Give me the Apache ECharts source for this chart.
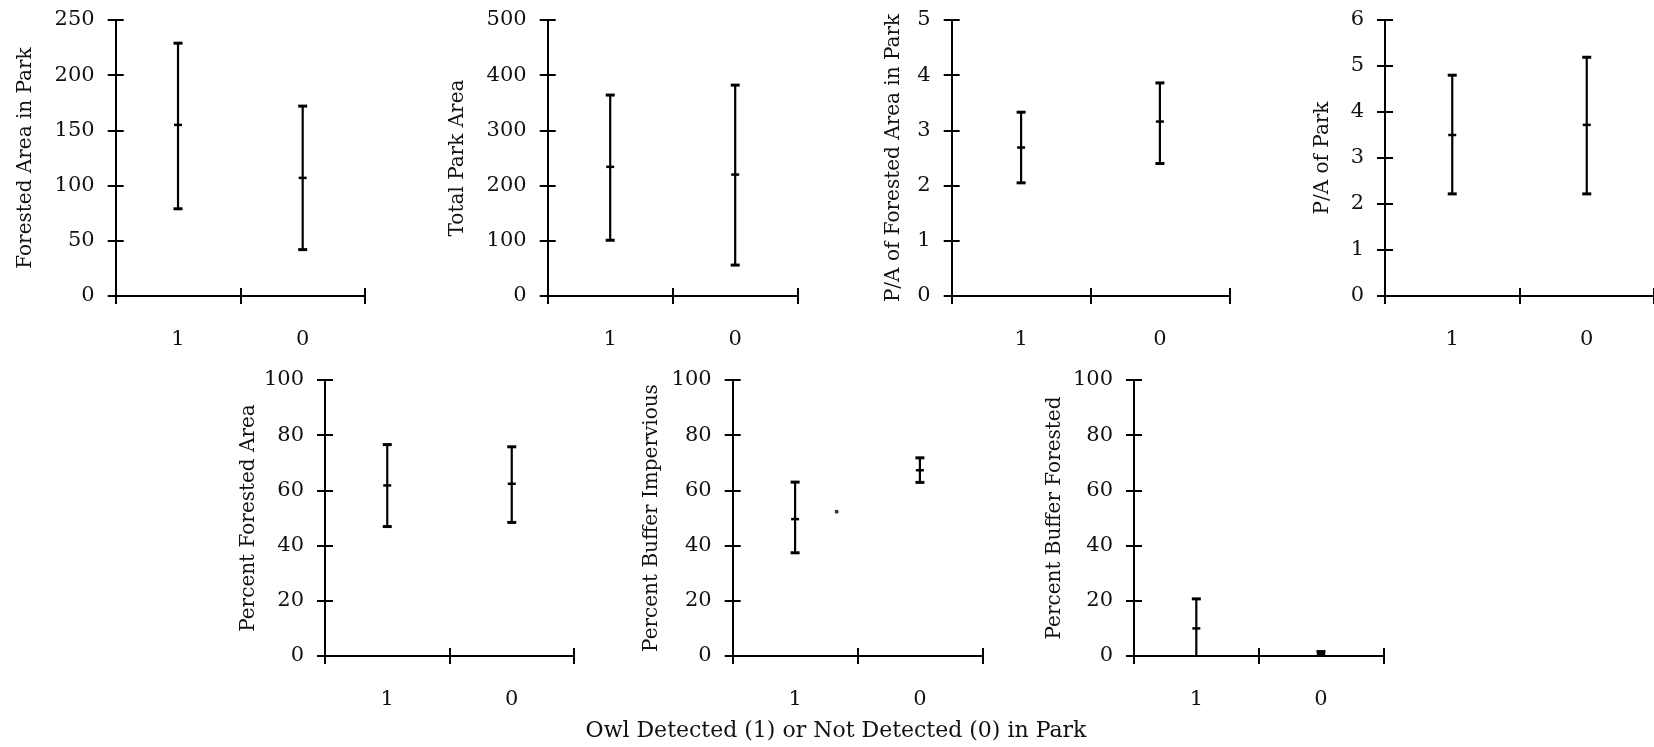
<!DOCTYPE html>
<html>
<head>
<meta charset="utf-8">
<script src="https://cdn.jsdelivr.net/npm/echarts@6/dist/echarts.min.js"></script>
<style>
  html, body { margin: 0; padding: 0; background: #ffffff; }
  #chart { width: 1654px; height: 747px; }
</style>
</head>
<body>
<div id="chart"></div>
<script>
// Owl detected (1) vs not detected (0): mean with error-bar range per park metric.
const groups = ['1', '0'];

// Each entry: [low, mean, high] for group "1" then group "0"
const forestedArea      = [[79, 155, 229], [42, 107, 172]];
const totalParkArea     = [[101, 234, 364], [56, 220, 382]];
const paForested        = [[2.05, 2.69, 3.33], [2.40, 3.16, 3.86]];
const paPark            = [[2.22, 3.50, 4.80], [2.22, 3.72, 5.19]];
const pctForested       = [[46.9, 61.8, 76.6], [48.4, 62.4, 75.8]];
const pctBufImpervious  = [[37.4, 49.6, 63.0], [62.9, 67.3, 71.8]];
const pctBufForested    = [[-0.7, 10.0, 20.7], [0.0, 0.8, 1.6]];

// Lone point in the impervious panel: [x position between groups, value]
const imperviousExtraPoint = [[0.333, 52.3]];

const axisNames = [
  'Forested Area in Park',
  'Total Park Area',
  'P/A of Forested Area in Park',
  'P/A of Park',
  'Percent Forested Area',
  'Percent Buffer Impervious',
  'Percent Buffer Forested'
];
const panelData = [forestedArea, totalParkArea, paForested, paPark,
                   pctForested, pctBufImpervious, pctBufForested];
const axisMax      = [250, 500, 5, 6, 100, 100, 100];
const axisInterval = [50, 100, 1, 1, 20, 20, 20];

const xTitle = 'Owl Detected (1) or Not Detected (0) in Park';

// Plot rectangles and name offsets
const layout = [
  { left: 115.7, top: 20,  width: 249.3, height: 276, nameGap: 80 },
  { left: 547.7, top: 20,  width: 250,   height: 276, nameGap: 80 },
  { left: 951.7, top: 20,  width: 277.6, height: 276, nameGap: 48 },
  { left: 1385,  top: 20,  width: 277.6, height: 276, nameGap: 52 },
  { left: 325,   top: 380, width: 249,   height: 276, nameGap: 66 },
  { left: 732.7, top: 380, width: 249.6, height: 276, nameGap: 71 },
  { left: 1134,  top: 380, width: 249.3, height: 276, nameGap: 69 }
];

const FONT = 'DejaVu Serif';
const NAME_SIZE = 20;
const TICK_SIZE = 21;
const TITLE_SIZE = 22;
const TEXT_COLOR = '#111';
const INK = '#000';

function renderErrorBar(params, api) {
  const idx = api.value(0);
  const x = api.coord([idx, 0])[0];
  const yLow = api.coord([idx, api.value(1)])[1];
  const yMean = api.coord([idx, api.value(2)])[1];
  const yHigh = api.coord([idx, api.value(3)])[1];
  const half = 4.5;
  return {
    type: 'group',
    children: [
      { type: 'line', shape: { x1: x, y1: yHigh, x2: x, y2: yLow },
        style: { stroke: INK, lineWidth: 2.2 } },
      { type: 'line', shape: { x1: x - half, y1: yHigh, x2: x + half, y2: yHigh },
        style: { stroke: INK, lineWidth: 3 } },
      { type: 'line', shape: { x1: x - half, y1: yLow, x2: x + half, y2: yLow },
        style: { stroke: INK, lineWidth: 3 } },
      { type: 'line', shape: { x1: x - half + 0.5, y1: yMean, x2: x + half - 0.5, y2: yMean },
        style: { stroke: INK, lineWidth: 2.5 } }
    ]
  };
}

const grid = [], xAxis = [], yAxis = [], series = [];

layout.forEach((g, i) => {
  grid.push({ left: g.left, top: g.top, width: g.width, height: g.height, containLabel: false });

  // main category axis: line, labels and the outer half of each tick
  xAxis.push({
    type: 'category', gridIndex: i, data: groups, position: 'bottom',
    boundaryGap: true,
    axisLine: { show: true, onZero: false, lineStyle: { color: INK, width: 2 } },
    axisTick: { show: true, inside: false, length: 8, interval: 0, alignWithLabel: false,
                lineStyle: { color: INK, width: 2 } },
    axisLabel: { show: true, margin: 33, interval: 0, fontFamily: FONT, fontSize: TICK_SIZE, color: TEXT_COLOR },
    splitLine: { show: false }
  });
  // companion axis for the inner half of each tick
  xAxis.push({
    type: 'category', gridIndex: i, data: groups, position: 'bottom',
    boundaryGap: true,
    axisLine: { show: false, onZero: false },
    axisTick: { show: true, inside: true, length: 8, interval: 0, alignWithLabel: false,
                lineStyle: { color: INK, width: 2 } },
    axisLabel: { show: false },
    splitLine: { show: false }
  });

  yAxis.push({
    type: 'value', gridIndex: i, position: 'left',
    min: 0, max: axisMax[i], interval: axisInterval[i],
    name: axisNames[i], nameLocation: 'middle', nameGap: g.nameGap,
    nameTextStyle: { fontFamily: FONT, fontSize: NAME_SIZE, color: TEXT_COLOR },
    axisLine: { show: true, onZero: false, lineStyle: { color: INK, width: 2 } },
    axisTick: { show: true, inside: false, length: 8, lineStyle: { color: INK, width: 2 } },
    axisLabel: { show: true, margin: 21, fontFamily: FONT, fontSize: TICK_SIZE, color: TEXT_COLOR },
    splitLine: { show: false }
  });
  yAxis.push({
    type: 'value', gridIndex: i, position: 'left',
    min: 0, max: axisMax[i], interval: axisInterval[i],
    axisLine: { show: false, onZero: false },
    axisTick: { show: true, inside: true, length: 8, lineStyle: { color: INK, width: 2 } },
    axisLabel: { show: false },
    splitLine: { show: false }
  });

  series.push({
    type: 'custom',
    xAxisIndex: 2 * i,
    yAxisIndex: 2 * i,
    clip: true,
    renderItem: renderErrorBar,
    encode: { x: 0, y: [1, 2, 3] },
    data: panelData[i].map((d, k) => [k, d[0], d[1], d[2]])
  });
});

// hidden continuous x axis for the lone point in the impervious panel
const extraAxisIndex = xAxis.length;
xAxis.push({
  type: 'value', gridIndex: 5, min: -0.5, max: 1.5, show: false, position: 'bottom',
  axisLine: { onZero: false }
});
series.push({
  type: 'scatter',
  xAxisIndex: extraAxisIndex,
  yAxisIndex: 10,
  symbol: 'rect',
  symbolSize: 3.5,
  itemStyle: { color: INK },
  data: imperviousExtraPoint
});

const chart = echarts.init(document.getElementById('chart'), null, { renderer: 'canvas' });
chart.setOption({
  animation: false,
  backgroundColor: '#ffffff',
  grid, xAxis, yAxis, series,
  graphic: [{
    type: 'text',
    x: 836, y: 731,
    style: {
      text: xTitle,
      fontFamily: FONT, fontSize: TITLE_SIZE, fill: TEXT_COLOR,
      textAlign: 'center', textVerticalAlign: 'middle'
    }
  }]
});
</script>
</body>
</html>
